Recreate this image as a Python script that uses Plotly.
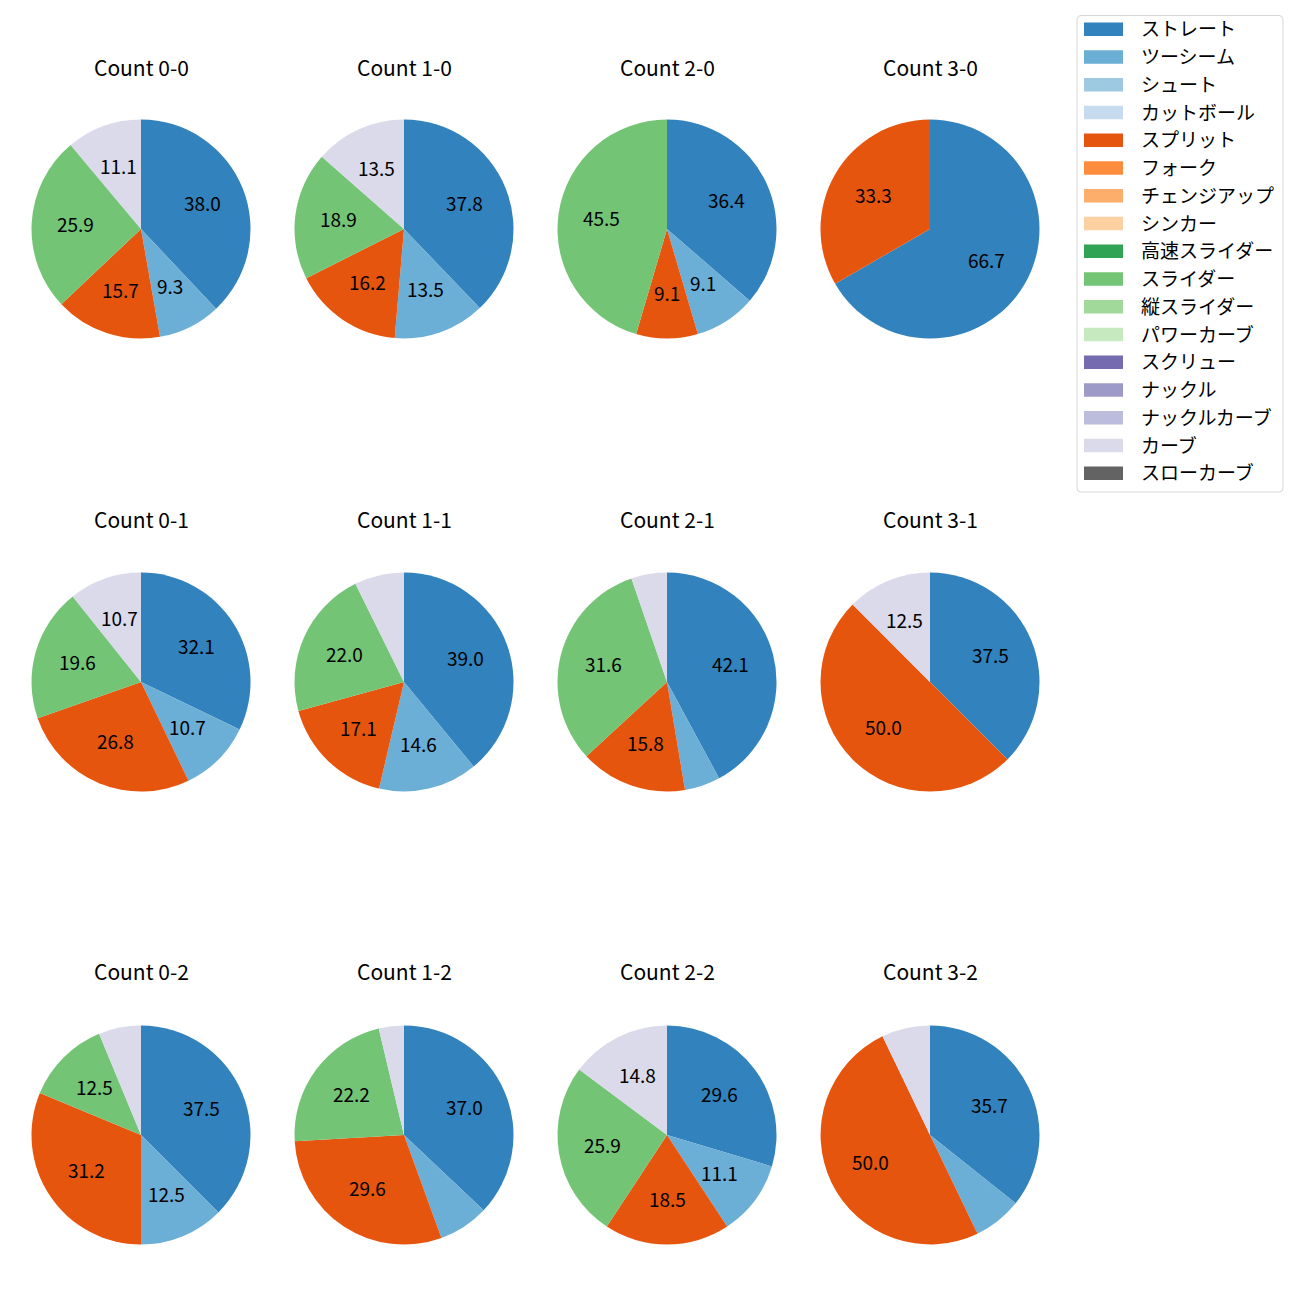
import math
import plotly.graph_objects as go

# ---- data ----
pitch_types = ["ストレート", "ツーシーム", "シュート", "カットボール", "スプリット", "フォーク",
               "チェンジアップ", "シンカー", "高速スライダー", "スライダー", "縦スライダー",
               "パワーカーブ", "スクリュー", "ナックル", "ナックルカーブ", "カーブ", "スローカーブ"]
pitch_colors = ["#3182bd", "#6baed6", "#9ecae1", "#c6dbef", "#e6550d", "#fd8d3c",
                "#fdae6b", "#fdd0a2", "#31a354", "#74c476", "#a1d99b", "#c7e9c0",
                "#756bb1", "#9e9ac8", "#bcbddc", "#dadaeb", "#636363"]

counts = ["Count 0-0", "Count 1-0", "Count 2-0", "Count 3-0",
          "Count 0-1", "Count 1-1", "Count 2-1", "Count 3-1",
          "Count 0-2", "Count 1-2", "Count 2-2", "Count 3-2"]

# pitches thrown per count (order as in counts)
straight = [41, 14, 4, 2, 18, 16, 8, 3, 6, 10, 8, 5]
two_seam = [10, 5, 1, 0, 6, 6, 1, 0, 2, 2, 3, 1]
split = [17, 6, 1, 1, 15, 7, 3, 4, 5, 8, 5, 7]
slider = [28, 7, 5, 0, 11, 9, 6, 0, 2, 6, 7, 0]
curve = [12, 5, 0, 0, 6, 3, 1, 1, 1, 1, 4, 1]

series_names = ["ストレート", "ツーシーム", "スプリット", "スライダー", "カーブ"]
series_values = [straight, two_seam, split, slider, curve]

# ---- layout geometry (pixels, page coordinates) ----
W = H = 1300
OFF = 8  # page margin of the html body
col_cx = [141, 404, 667, 930]
row_cy = [229, 682, 1135]
title_y = [67, 519, 971]
R = 109.5
TXT_DY = -2  # vertical nudge of text centres
FONT = "Noto Sans CJK JP"


def px(x):
    return (x - OFF) / W


def py(y):
    return 1 - (y - OFF) / H


color_of = dict(zip(pitch_types, pitch_colors))
fig = go.Figure()
annotations = []

for i, name in enumerate(counts):
    r, c = divmod(i, 4)
    cx, cy = col_cx[c], row_cy[r]
    vals = [s[i] for s in series_values]
    fig.add_trace(go.Pie(
        labels=series_names,
        values=vals,
        sort=False,
        direction="clockwise",
        rotation=0,
        marker=dict(colors=[color_of[n] for n in series_names], line=dict(width=0)),
        textinfo="none",
        showlegend=False,
        domain=dict(x=[px(cx - R), px(cx + R)], y=[py(cy + R), py(cy - R)]),
        hoverinfo="label+percent",
    ))
    total = sum(vals)
    cum = 0
    for v in vals:
        if v == 0:
            continue
        pct = 100 * v / total
        mid = 90 - 360 * (cum + v / 2) / total
        cum += v
        if pct < 8:
            continue
        lx = cx + 0.6 * R * math.cos(math.radians(mid))
        ly = cy - 0.6 * R * math.sin(math.radians(mid)) + TXT_DY
        annotations.append(dict(x=px(lx), y=py(ly), xref="paper", yref="paper",
                                text=f"{pct:.1f}", showarrow=False,
                                xanchor="center", yanchor="middle",
                                font=dict(family=FONT, size=19, color="black")))
    annotations.append(dict(x=px(cx), y=py(title_y[r]), xref="paper", yref="paper",
                            text=name, showarrow=False, xanchor="center", yanchor="middle",
                            font=dict(family=FONT, size=21, color="black")))

# ---- legend (manual, matplotlib style) ----
shapes = []
lx0, lx1, ly0, ly1, rad = 1077, 1283, 15.5, 492, 4
path = (f"M {px(lx0+rad)},{py(ly0)} L {px(lx1-rad)},{py(ly0)} "
        f"Q {px(lx1)},{py(ly0)} {px(lx1)},{py(ly0+rad)} "
        f"L {px(lx1)},{py(ly1-rad)} Q {px(lx1)},{py(ly1)} {px(lx1-rad)},{py(ly1)} "
        f"L {px(lx0+rad)},{py(ly1)} Q {px(lx0)},{py(ly1)} {px(lx0)},{py(ly1-rad)} "
        f"L {px(lx0)},{py(ly0+rad)} Q {px(lx0)},{py(ly0)} {px(lx0+rad)},{py(ly0)} Z")
shapes.append(dict(type="path", path=path, xref="paper", yref="paper",
                   line=dict(color="#d6d6d6", width=1), fillcolor="white"))
first_y, step = 29.3, 27.75
for k, (nm, col) in enumerate(zip(pitch_types, pitch_colors)):
    yc = first_y + k * step
    shapes.append(dict(type="rect", xref="paper", yref="paper",
                       x0=px(1084), x1=px(1123), y0=py(yc + 6.7), y1=py(yc - 6.7),
                       line=dict(width=0), fillcolor=col))
    annotations.append(dict(x=px(1139), y=py(yc - 1.5), xref="paper", yref="paper",
                            text=nm, showarrow=False, xanchor="left", yanchor="middle",
                            font=dict(family=FONT, size=19, color="black")))

fig.update_layout(width=W, height=H, margin=dict(l=0, r=0, t=0, b=0),
                  paper_bgcolor="white", plot_bgcolor="white",
                  shapes=shapes, annotations=annotations, showlegend=False)
fig.write_html("out.html")
